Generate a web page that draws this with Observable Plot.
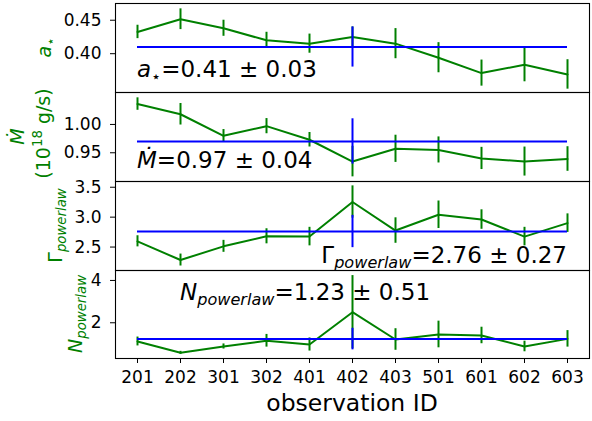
<!DOCTYPE html>
<html><head><meta charset="utf-8">
<script src="https://cdn.jsdelivr.net/npm/d3@7"></script>
<script src="https://cdn.jsdelivr.net/npm/@observablehq/plot@0.6"></script>
<style>
body{margin:0;background:white}
#chart{position:relative;width:592px;height:421px;font-family:"DejaVu Sans"}
#chart svg{position:absolute;left:0;overflow:visible}
</style>
</head><body><div id="chart"></div>
<script>
// ---- data ----
const ids = ["201","202","301","302","401","402","403","501","601","602","603"];
const spin     = [0.4325,0.4515,0.438,0.420,0.415,0.425,0.415,0.394,0.371,0.3835,0.369];
const spinErr  = [0.010,0.0155,0.012,0.012,0.0143,0.015,0.0225,0.0225,0.0195,0.0255,0.022];
const mdot     = [1.036,1.018,0.980,0.997,0.973,0.9345,0.957,0.955,0.940,0.9345,0.939];
const mdotErr  = [0.011,0.019,0.011,0.0134,0.0128,0.027,0.024,0.023,0.0196,0.0256,0.0217];
const gamma    = [2.596,2.283,2.512,2.68,2.675,3.253,2.776,3.04,2.96,2.675,2.90];
const gammaErr = [0.093,0.10,0.10,0.126,0.155,0.27,0.213,0.23,0.163,0.155,0.155];
const norm     = [1.116,0.58,0.88,1.15,0.974,2.5,1.21,1.447,1.40,0.88,1.24];
const normErr  = [0.21,0.07,0.12,0.30,0.31,1.73,0.51,0.63,0.39,0.25,0.39];
const means    = [0.41,0.97,2.76,1.23];
const meanErrs = [0.03,0.04,0.27,0.51];
const spinTicks  = [0.40,0.45];
const mdotTicks  = [0.95,1.00];
const gammaTicks = [2.5,3.0,3.5];
const normTicks  = [2,4];
const xTitle = "observation ID";

// ---- layout ----
const W = 592, ML = 115, MR = 3;
const FONT = "DejaVu Sans";
const root = d3.select("#chart");

function rich(g, x, y, anchor, parts, size, fill, rotate) {
  const t = g.append("text")
    .attr("transform", `translate(${x},${y})` + (rotate ? " rotate(-90)" : ""))
    .attr("text-anchor", anchor).attr("font-size", size)
    .attr("font-family", FONT).attr("fill", fill);
  let shift = 0;
  for (const p of parts) {
    const ts = t.append("tspan").text(p.t);
    let target = 0, fs = size;
    if (p.sub) { target = size * 0.22; fs = size * 0.7; }
    if (p.sup) { target = -size * 0.42; fs = size * 0.7; }
    ts.attr("font-size", fs);
    if (p.i) ts.attr("font-style", "italic");
    if (target !== shift) ts.attr("dy", target - shift);
    shift = target;
  }
  return t;
}

const panels = [
  {vals: spin, errs: spinErr, m: means[0], me: meanErrs[0], dom: [0.342,0.475], ticks: spinTicks, fmt: d3.format(".2f"), top: 0, h: 92, mt: 3, mb: 0},
  {vals: mdot, errs: mdotErr, m: means[1], me: meanErrs[1], dom: [0.8993,1.0564], ticks: mdotTicks, fmt: d3.format(".2f"), top: 92, h: 89, mt: 0, mb: 0},
  {vals: gamma, errs: gammaErr, m: means[2], me: meanErrs[2], dom: [2.108,3.596], ticks: gammaTicks, fmt: d3.format(".1f"), top: 181, h: 89, mt: 0, mb: 0},
  {vals: norm, errs: normErr, m: means[3], me: meanErrs[3], dom: [0.312,4.47], ticks: normTicks, fmt: d3.format("d"), top: 270, h: 151, mt: 0, mb: 63}
];

const plots = panels.map((p, k) => {
  const bottom = k === panels.length - 1;
  const data = ids.map((id, i) => ({id, v: p.vals[i], e: p.errs[i]}));
  const marks = [
    Plot.line(data, {x: "id", y: "v", stroke: "green", strokeWidth: 2}),
    Plot.ruleX(data, {x: "id", y1: d => d.v - d.e, y2: d => d.v + d.e, stroke: "green", strokeWidth: 2}),
    Plot.ruleY([p.m], {y: d => d, x1: () => ids[0], x2: () => ids[ids.length - 1], stroke: "blue", strokeWidth: 2}),
    Plot.ruleX([p.m], {x: () => ids[5], y1: d => d - p.me, y2: d => d + p.me, stroke: "blue", strokeWidth: 2}),
    Plot.axisY(p.ticks, {tickFormat: p.fmt, tickSize: 5, tickPadding: 9, fontSize: 17, label: null}),
    Plot.frame({stroke: "black", strokeWidth: 1.1})
  ];
  if (bottom) marks.push(Plot.axisX({tickSize: 5, tickPadding: 7, fontSize: 17, label: null}));
  const svg = Plot.plot({
    width: W, height: p.h, marginLeft: ML, marginRight: MR, marginTop: p.mt, marginBottom: p.mb,
    style: {fontFamily: FONT, fontSize: "17px", background: "transparent", overflow: "visible"},
    x: {type: "point", domain: ids, padding: 0.5, axis: bottom ? undefined : null},
    y: {domain: p.dom},
    marks
  });
  svg.style.top = p.top + "px";
  root.node().appendChild(svg);
  return svg;
});

const x = plots[0].scale("x");
const fc = p => p.mt + (p.h - p.mt - p.mb) / 2;   // frame centre (local)
const fb = p => p.h - p.mb;                          // frame bottom (local)

// y labels (rotated, green)
const g0 = d3.select(plots[0]), g1 = d3.select(plots[1]), g2 = d3.select(plots[2]), g3 = d3.select(plots[3]);
rich(g0, ML - 64, fc(panels[0]), "middle", [{t: "a", i: 1}, {t: "⋆", sub: 1}], 19, "green", true);
rich(g1, ML - 91, fc(panels[1]), "middle", [{t: "Ṁ", i: 1}], 19, "green", true);
rich(g1, ML - 65, fc(panels[1]) - 3, "middle", [{t: "(10"}, {t: "18", sup: 1}, {t: " g/s)"}], 19, "green", true);
rich(g2, ML - 53, fc(panels[2]), "middle", [{t: "Γ"}, {t: "powerlaw", sub: 1, i: 1}], 19, "green", true);
rich(g3, ML - 33, fc(panels[3]), "middle", [{t: "N", i: 1}, {t: "powerlaw", sub: 1, i: 1}], 19, "green", true);

// annotations
const f2 = d3.format(".2f");
const ann = (m, e) => "=" + f2(m) + " ± " + f2(e);
const AF = 23;
rich(g0, x.apply(ids[0]), fb(panels[0]) - 15, "start", [{t: "a", i: 1}, {t: "⋆", sub: 1}, {t: ann(means[0], meanErrs[0])}], AF, "black");
rich(g1, x.apply(ids[0]), fb(panels[1]) - 13, "start", [{t: "Ṁ", i: 1}, {t: ann(means[1], meanErrs[1])}], AF, "black");
rich(g2, x.apply(ids[ids.length - 1]), fb(panels[2]) - 7, "end", [{t: "Γ"}, {t: "powerlaw", sub: 1, i: 1}, {t: ann(means[2], meanErrs[2])}], AF, "black");
rich(g3, x.apply(ids[1]), panels[3].mt + 30, "start", [{t: "N", i: 1}, {t: "powerlaw", sub: 1, i: 1}, {t: ann(means[3], meanErrs[3])}], AF, "black");

// x axis title
g3.append("text").attr("x", ML + (W - ML - MR) / 2).attr("y", fb(panels[3]) + 53)
  .attr("text-anchor", "middle").attr("font-size", 23.5).attr("font-family", FONT).attr("fill", "black").text(xTitle);
</script>
</body></html>
